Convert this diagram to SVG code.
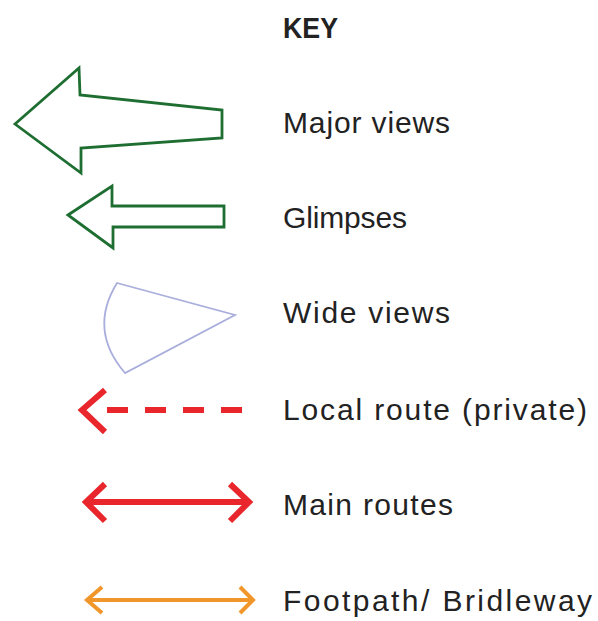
<svg xmlns="http://www.w3.org/2000/svg" width="598" height="621" viewBox="0 0 598 621">
<style>
.t{font-family:"Liberation Sans",Arial,sans-serif;font-size:30px;fill:#222}
.g{fill:#fff;stroke:#1e6e32;stroke-width:2.8;stroke-linejoin:miter}
.r{fill:none;stroke:#e8262b;stroke-linecap:butt}
.o{fill:none;stroke:#f0962a;stroke-width:4}
</style>
<rect width="598" height="621" fill="#fff"/>
<g id="title"><text class="t" x="283" y="38" font-weight="bold" textLength="55" lengthAdjust="spacingAndGlyphs">KEY</text></g>
<g id="major-views">
<polygon class="g" points="15,124 79,68 80,95 222,110 222,138 81,148 81,173"/>
<text class="t" x="283" y="133" textLength="167" lengthAdjust="spacing">Major views</text>
</g>
<g id="glimpses">
<polygon class="g" points="68,215 112,186 112,206 224,206 224,227 113,227 113,248"/>
<text class="t" x="283" y="228" textLength="124" lengthAdjust="spacing">Glimpses</text>
</g>
<g id="wide-views">
<path d="M117,283 L235,315 L125,373 Q88,330 117,283 Z" fill="#fff" stroke="#a9aedd" stroke-width="1.8"/>
<text class="t" x="283" y="323" textLength="167" lengthAdjust="spacing">Wide views</text>
</g>
<g id="local-route">
<polyline class="r" points="105,390 82,410 105,432" stroke-width="6" fill="none"/>
<line class="r" x1="107" y1="410" x2="243" y2="410" stroke-width="6" stroke-dasharray="21,17"/>
<text class="t" x="283" y="420" textLength="304" lengthAdjust="spacing">Local route (private)</text>
</g>
<g id="main-routes">
<line class="r" x1="86" y1="502" x2="249" y2="502" stroke-width="6"/>
<polyline class="r" points="105,484 86,502 105,521" stroke-width="6"/>
<polyline class="r" points="230,484 249,502 230,521" stroke-width="6"/>
<text class="t" x="283" y="515" textLength="170" lengthAdjust="spacing">Main routes</text>
</g>
<g id="footpath">
<line class="o" x1="87" y1="600" x2="253" y2="600"/>
<polyline class="o" points="102,587 87,600 102,613"/>
<polyline class="o" points="240,587 253,600 240,613"/>
<text class="t" x="283" y="611" textLength="309" lengthAdjust="spacing">Footpath/ Bridleway</text>
</g>
</svg>
